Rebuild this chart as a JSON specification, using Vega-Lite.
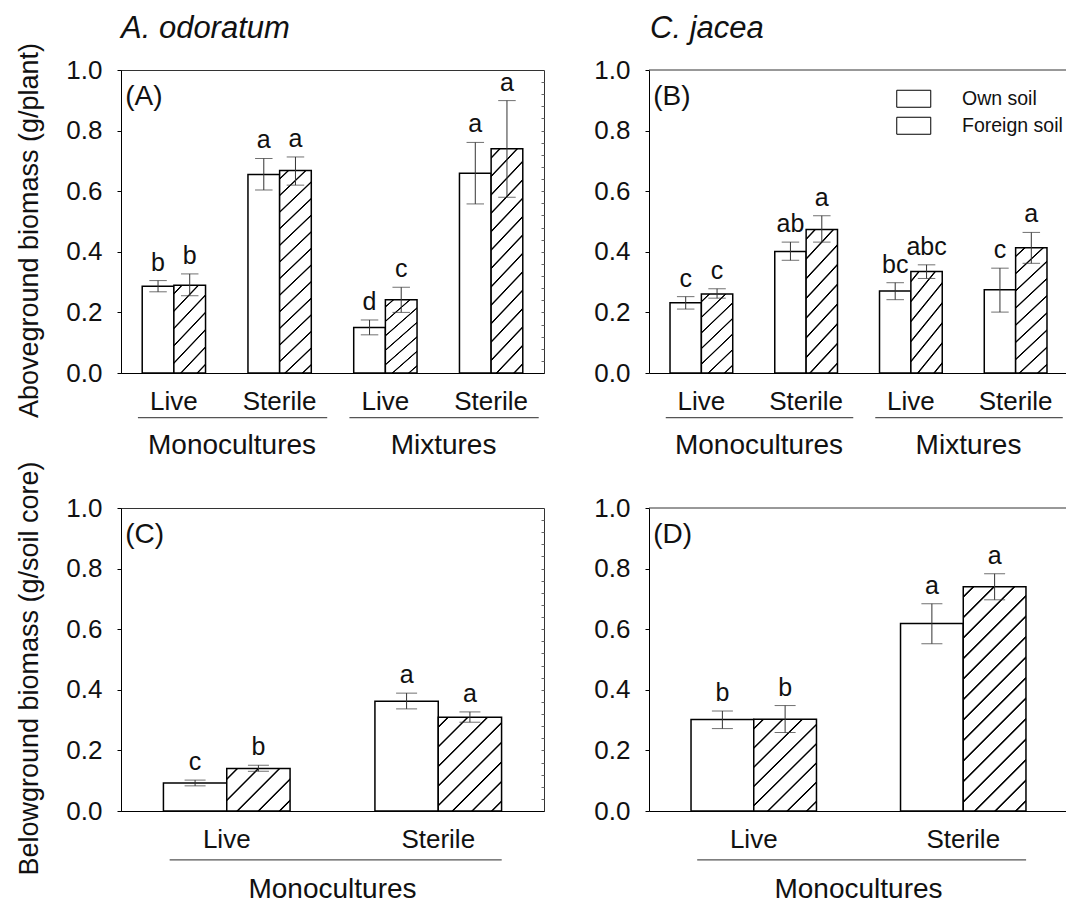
{
  "$schema": "https://vega.github.io/schema/vega-lite/v6.json",
  "background": "white",
  "padding": {"left": 15, "top": 12, "right": 0, "bottom": 0},
  "bounds": "flush",
  "columns": 2,
  "spacing": {"row": 135, "column": 105},
  "resolve": {"scale": {"stroke": "independent", "xOffset": "independent", "x": "independent", "y": "independent"}, "legend": {"stroke": "independent"}},
  "datasets": {
    "bars": [
      {"panel": "A", "cat": "Monocultures|Live", "soil": "Own soil", "mean": 0.286, "lo": 0.268, "hi": 0.305, "letter": "b"},
      {"panel": "A", "cat": "Monocultures|Live", "soil": "Foreign soil", "mean": 0.290, "lo": 0.255, "hi": 0.327, "letter": "b"},
      {"panel": "A", "cat": "Monocultures|Sterile", "soil": "Own soil", "mean": 0.655, "lo": 0.604, "hi": 0.708, "letter": "a"},
      {"panel": "A", "cat": "Monocultures|Sterile", "soil": "Foreign soil", "mean": 0.668, "lo": 0.620, "hi": 0.713, "letter": "a"},
      {"panel": "A", "cat": "Mixtures|Live", "soil": "Own soil", "mean": 0.150, "lo": 0.126, "hi": 0.175, "letter": "d"},
      {"panel": "A", "cat": "Mixtures|Live", "soil": "Foreign soil", "mean": 0.242, "lo": 0.200, "hi": 0.283, "letter": "c"},
      {"panel": "A", "cat": "Mixtures|Sterile", "soil": "Own soil", "mean": 0.659, "lo": 0.558, "hi": 0.761, "letter": "a"},
      {"panel": "A", "cat": "Mixtures|Sterile", "soil": "Foreign soil", "mean": 0.740, "lo": 0.580, "hi": 0.899, "letter": "a"},
      {"panel": "B", "cat": "Monocultures|Live", "soil": "Own soil", "mean": 0.232, "lo": 0.211, "hi": 0.252, "letter": "c"},
      {"panel": "B", "cat": "Monocultures|Live", "soil": "Foreign soil", "mean": 0.261, "lo": 0.247, "hi": 0.278, "letter": "c"},
      {"panel": "B", "cat": "Monocultures|Sterile", "soil": "Own soil", "mean": 0.401, "lo": 0.372, "hi": 0.432, "letter": "ab"},
      {"panel": "B", "cat": "Monocultures|Sterile", "soil": "Foreign soil", "mean": 0.474, "lo": 0.432, "hi": 0.519, "letter": "a"},
      {"panel": "B", "cat": "Mixtures|Live", "soil": "Own soil", "mean": 0.271, "lo": 0.242, "hi": 0.298, "letter": "bc"},
      {"panel": "B", "cat": "Mixtures|Live", "soil": "Foreign soil", "mean": 0.335, "lo": 0.312, "hi": 0.357, "letter": "abc"},
      {"panel": "B", "cat": "Mixtures|Sterile", "soil": "Own soil", "mean": 0.275, "lo": 0.201, "hi": 0.346, "letter": "c"},
      {"panel": "B", "cat": "Mixtures|Sterile", "soil": "Foreign soil", "mean": 0.413, "lo": 0.362, "hi": 0.464, "letter": "a"},
      {"panel": "C", "cat": "Monocultures|Live", "soil": "Own soil", "mean": 0.0925, "lo": 0.083, "hi": 0.102, "letter": "c"},
      {"panel": "C", "cat": "Monocultures|Live", "soil": "Foreign soil", "mean": 0.140, "lo": 0.131, "hi": 0.151, "letter": "b"},
      {"panel": "C", "cat": "Monocultures|Sterile", "soil": "Own soil", "mean": 0.362, "lo": 0.337, "hi": 0.389, "letter": "a"},
      {"panel": "C", "cat": "Monocultures|Sterile", "soil": "Foreign soil", "mean": 0.309, "lo": 0.293, "hi": 0.327, "letter": "a"},
      {"panel": "D", "cat": "Monocultures|Live", "soil": "Own soil", "mean": 0.302, "lo": 0.272, "hi": 0.330, "letter": "b"},
      {"panel": "D", "cat": "Monocultures|Live", "soil": "Foreign soil", "mean": 0.303, "lo": 0.259, "hi": 0.348, "letter": "b"},
      {"panel": "D", "cat": "Monocultures|Sterile", "soil": "Own soil", "mean": 0.619, "lo": 0.552, "hi": 0.684, "letter": "a"},
      {"panel": "D", "cat": "Monocultures|Sterile", "soil": "Foreign soil", "mean": 0.740, "lo": 0.697, "hi": 0.783, "letter": "a"}
    ],
    "groups": [
      {"panel": "A", "label": "Monocultures", "cat": "Monocultures|Live", "end": "Monocultures|Sterile"},
      {"panel": "A", "label": "Mixtures", "cat": "Mixtures|Live", "end": "Mixtures|Sterile"},
      {"panel": "B", "label": "Monocultures", "cat": "Monocultures|Live", "end": "Monocultures|Sterile"},
      {"panel": "B", "label": "Mixtures", "cat": "Mixtures|Live", "end": "Mixtures|Sterile"},
      {"panel": "C", "label": "Monocultures", "cat": "Monocultures|Live", "end": "Monocultures|Sterile"},
      {"panel": "D", "label": "Monocultures", "cat": "Monocultures|Live", "end": "Monocultures|Sterile"}
    ],
    "plabels": [
      {"panel": "A", "label": "(A)", "cat": "Monocultures|Live"},
      {"panel": "B", "label": "(B)", "cat": "Monocultures|Live"},
      {"panel": "C", "label": "(C)", "cat": "Monocultures|Live"},
      {"panel": "D", "label": "(D)", "cat": "Monocultures|Live"}
    ],
    "species": [
      {"panel": "A", "label": "A. odoratum", "cat": "Monocultures|Live"},
      {"panel": "B", "label": "C. jacea", "cat": "Monocultures|Live"}
    ]
  },
  "concat": [
    {
      "width": 423, "height": 303,
      "resolve": {"axis": {"y": "independent"}},
      "layer": [
        {
          "data": {"name": "bars"}, "transform": [{"filter": "datum.panel === 'A'"}],
          "mark": {"type": "bar", "stroke": "black", "strokeWidth": 1.5},
          "encoding": {
            "x": {"field": "cat", "type": "nominal", "scale": {"type": "band", "domain": ["Monocultures|Live", "Monocultures|Sterile", "Mixtures|Live", "Mixtures|Sterile"], "paddingInner": 0, "paddingOuter": 0},
                  "axis": {"title": null, "ticks": false, "labelAngle": 0, "labelFontSize": 26, "labelPadding": 15, "labelExpr": "split(datum.label, '|')[1]", "domainColor": "black", "labelColor": "#111"}},
            "xOffset": {"field": "soil", "type": "nominal", "scale": {"type": "band", "domain": ["Own soil", "Foreign soil"], "paddingInner": 0, "paddingOuter": 0.67}},
            "y": {"field": "mean", "type": "quantitative", "scale": {"domain": [0, 1], "nice": false},
                  "axis": {"title": "Aboveground biomass (g/plant)", "titleY": 160, "values": [0, 0.2, 0.4, 0.6, 0.8, 1], "format": ".1f", "grid": false, "tickSize": 4, "labelPadding": 15, "labelFontSize": 26, "titleFontSize": 27, "titlePadding": 22, "titleFontWeight": "normal", "domainColor": "black", "tickColor": "black", "labelColor": "#111", "titleColor": "#111"}},
            "fill": {
              "condition": [
                {"test": "datum.soil === 'Foreign soil' && datum.mean > 0.5", "value": {"gradient": "linear", "x1": 0, "y1": 0, "x2": 0.1675, "y2": 1.124, "stops": [
                  {"offset": 0, "color": "#fff"},
                  {"offset": 0.0297, "color": "#fff"}, {"offset": 0.0337, "color": "#000"}, {"offset": 0.0377, "color": "#000"}, {"offset": 0.0417, "color": "#fff"},
                  {"offset": 0.1011, "color": "#fff"}, {"offset": 0.1051, "color": "#000"}, {"offset": 0.1091, "color": "#000"}, {"offset": 0.1131, "color": "#fff"},
                  {"offset": 0.1726, "color": "#fff"}, {"offset": 0.1766, "color": "#000"}, {"offset": 0.1806, "color": "#000"}, {"offset": 0.1846, "color": "#fff"},
                  {"offset": 0.244, "color": "#fff"}, {"offset": 0.248, "color": "#000"}, {"offset": 0.252, "color": "#000"}, {"offset": 0.256, "color": "#fff"},
                  {"offset": 0.3154, "color": "#fff"}, {"offset": 0.3194, "color": "#000"}, {"offset": 0.3234, "color": "#000"}, {"offset": 0.3274, "color": "#fff"},
                  {"offset": 0.3869, "color": "#fff"}, {"offset": 0.3909, "color": "#000"}, {"offset": 0.3949, "color": "#000"}, {"offset": 0.3989, "color": "#fff"},
                  {"offset": 0.4583, "color": "#fff"}, {"offset": 0.4623, "color": "#000"}, {"offset": 0.4663, "color": "#000"}, {"offset": 0.4703, "color": "#fff"},
                  {"offset": 0.5297, "color": "#fff"}, {"offset": 0.5337, "color": "#000"}, {"offset": 0.5377, "color": "#000"}, {"offset": 0.5417, "color": "#fff"},
                  {"offset": 0.6011, "color": "#fff"}, {"offset": 0.6051, "color": "#000"}, {"offset": 0.6091, "color": "#000"}, {"offset": 0.6131, "color": "#fff"},
                  {"offset": 0.6726, "color": "#fff"}, {"offset": 0.6766, "color": "#000"}, {"offset": 0.6806, "color": "#000"}, {"offset": 0.6846, "color": "#fff"},
                  {"offset": 0.744, "color": "#fff"}, {"offset": 0.748, "color": "#000"}, {"offset": 0.752, "color": "#000"}, {"offset": 0.756, "color": "#fff"},
                  {"offset": 0.8154, "color": "#fff"}, {"offset": 0.8194, "color": "#000"}, {"offset": 0.8234, "color": "#000"}, {"offset": 0.8274, "color": "#fff"},
                  {"offset": 0.8869, "color": "#fff"}, {"offset": 0.8909, "color": "#000"}, {"offset": 0.8949, "color": "#000"}, {"offset": 0.8989, "color": "#fff"},
                  {"offset": 0.9583, "color": "#fff"}, {"offset": 0.9623, "color": "#000"}, {"offset": 0.9663, "color": "#000"}, {"offset": 0.9703, "color": "#fff"},
                  {"offset": 1, "color": "#fff"}]}},
                {"test": "datum.soil === 'Foreign soil'", "value": {"gradient": "linear", "x1": 0, "y1": 0, "x2": 0.4582, "y2": 1.2059, "stops": [
                  {"offset": 0, "color": "#fff"},
                  {"offset": 0.0594, "color": "#fff"}, {"offset": 0.0674, "color": "#000"}, {"offset": 0.0754, "color": "#000"}, {"offset": 0.0834, "color": "#fff"},
                  {"offset": 0.2023, "color": "#fff"}, {"offset": 0.2103, "color": "#000"}, {"offset": 0.2183, "color": "#000"}, {"offset": 0.2263, "color": "#fff"},
                  {"offset": 0.3451, "color": "#fff"}, {"offset": 0.3531, "color": "#000"}, {"offset": 0.3611, "color": "#000"}, {"offset": 0.3691, "color": "#fff"},
                  {"offset": 0.488, "color": "#fff"}, {"offset": 0.496, "color": "#000"}, {"offset": 0.504, "color": "#000"}, {"offset": 0.512, "color": "#fff"},
                  {"offset": 0.6309, "color": "#fff"}, {"offset": 0.6389, "color": "#000"}, {"offset": 0.6469, "color": "#000"}, {"offset": 0.6549, "color": "#fff"},
                  {"offset": 0.7737, "color": "#fff"}, {"offset": 0.7817, "color": "#000"}, {"offset": 0.7897, "color": "#000"}, {"offset": 0.7977, "color": "#fff"},
                  {"offset": 0.9166, "color": "#fff"}, {"offset": 0.9246, "color": "#000"}, {"offset": 0.9326, "color": "#000"}, {"offset": 0.9406, "color": "#fff"},
                  {"offset": 1, "color": "#fff"}]}}
              ],
              "value": "white"
            }
          }
        },
        {
          "data": {"name": "bars"}, "transform": [{"filter": "datum.panel === 'A'"}],
          "mark": {"type": "rule", "color": "#333", "strokeWidth": 1},
          "encoding": {
            "x": {"field": "cat", "type": "nominal", "scale": {"type": "band", "domain": ["Monocultures|Live", "Monocultures|Sterile", "Mixtures|Live", "Mixtures|Sterile"], "paddingInner": 0, "paddingOuter": 0}},
            "xOffset": {"field": "soil", "type": "nominal", "scale": {"type": "band", "domain": ["Own soil", "Foreign soil"], "paddingInner": 0, "paddingOuter": 0.67}},
            "y": {"field": "lo", "type": "quantitative", "axis": {"orient": "right", "title": null, "labels": false, "domain": false, "grid": false, "tickSize": -3, "tickColor": "#666", "values": [0.04, 0.08, 0.12, 0.16, 0.2, 0.24, 0.28, 0.32, 0.36, 0.4, 0.44, 0.48, 0.52, 0.56, 0.6, 0.64, 0.68, 0.72, 0.76, 0.8, 0.84, 0.88, 0.92, 0.96]}},
            "y2": {"field": "hi"}
          }
        },
        {
          "data": {"name": "bars"}, "transform": [{"filter": "datum.panel === 'A'"}],
          "mark": {"type": "tick", "color": "#333", "thickness": 1, "size": 17.5},
          "encoding": {
            "x": {"field": "cat", "type": "nominal", "scale": {"type": "band", "domain": ["Monocultures|Live", "Monocultures|Sterile", "Mixtures|Live", "Mixtures|Sterile"], "paddingInner": 0, "paddingOuter": 0}},
            "xOffset": {"field": "soil", "type": "nominal", "scale": {"type": "band", "domain": ["Own soil", "Foreign soil"], "paddingInner": 0, "paddingOuter": 0.67}},
            "y": {"field": "hi", "type": "quantitative", "axis": null}
          }
        },
        {
          "data": {"name": "bars"}, "transform": [{"filter": "datum.panel === 'A'"}],
          "mark": {"type": "tick", "color": "#333", "thickness": 1, "size": 17.5},
          "encoding": {
            "x": {"field": "cat", "type": "nominal", "scale": {"type": "band", "domain": ["Monocultures|Live", "Monocultures|Sterile", "Mixtures|Live", "Mixtures|Sterile"], "paddingInner": 0, "paddingOuter": 0}},
            "xOffset": {"field": "soil", "type": "nominal", "scale": {"type": "band", "domain": ["Own soil", "Foreign soil"], "paddingInner": 0, "paddingOuter": 0.67}},
            "y": {"field": "lo", "type": "quantitative", "axis": null}
          }
        },
        {
          "data": {"name": "bars"}, "transform": [{"filter": "datum.panel === 'A'"}],
          "mark": {"type": "text", "fontSize": 25, "dy": -10, "baseline": "alphabetic", "color": "#111"},
          "encoding": {
            "x": {"field": "cat", "type": "nominal", "scale": {"type": "band", "domain": ["Monocultures|Live", "Monocultures|Sterile", "Mixtures|Live", "Mixtures|Sterile"], "paddingInner": 0, "paddingOuter": 0}},
            "xOffset": {"field": "soil", "type": "nominal", "scale": {"type": "band", "domain": ["Own soil", "Foreign soil"], "paddingInner": 0, "paddingOuter": 0.67}},
            "y": {"field": "hi", "type": "quantitative", "axis": null},
            "text": {"field": "letter"}
          }
        },
        {
          "data": {"name": "plabels"}, "transform": [{"filter": "datum.panel === 'A'"}],
          "mark": {"type": "text", "fontSize": 28, "align": "left", "baseline": "alphabetic", "color": "#111"},
          "encoding": {
            "x": {"field": "cat", "type": "nominal", "bandPosition": 0.04, "scale": {"type": "band", "domain": ["Monocultures|Live", "Monocultures|Sterile", "Mixtures|Live", "Mixtures|Sterile"], "paddingInner": 0, "paddingOuter": 0}},
            "y": {"datum": 0.885, "axis": null},
            "text": {"field": "label"}
          }
        },
        {
          "data": {"name": "species"}, "transform": [{"filter": "datum.panel === 'A'"}],
          "mark": {"type": "text", "fontSize": 31, "fontStyle": "italic", "align": "left", "baseline": "alphabetic", "color": "#111"},
          "encoding": {
            "x": {"field": "cat", "type": "nominal", "bandPosition": 0, "scale": {"type": "band", "domain": ["Monocultures|Live", "Monocultures|Sterile", "Mixtures|Live", "Mixtures|Sterile"], "paddingInner": 0, "paddingOuter": 0}},
            "y": {"datum": 1.107, "axis": null},
            "text": {"field": "label"}
          }
        },
        {
          "data": {"name": "groups"}, "transform": [{"filter": "datum.panel === 'A'"}],
          "mark": {"type": "rule", "color": "#555", "strokeWidth": 1.3},
          "encoding": {
            "x": {"field": "cat", "type": "nominal", "bandPosition": 0.16, "scale": {"type": "band", "domain": ["Monocultures|Live", "Monocultures|Sterile", "Mixtures|Live", "Mixtures|Sterile"], "paddingInner": 0, "paddingOuter": 0}},
            "x2": {"field": "end", "bandPosition": 0.95},
            "y": {"datum": -0.147, "axis": null}
          }
        },
        {
          "data": {"name": "groups"}, "transform": [{"filter": "datum.panel === 'A'"}],
          "mark": {"type": "text", "fontSize": 28, "align": "center", "baseline": "alphabetic", "color": "#111"},
          "encoding": {
            "x": {"field": "end", "type": "nominal", "bandPosition": 0.05, "scale": {"type": "band", "domain": ["Monocultures|Live", "Monocultures|Sterile", "Mixtures|Live", "Mixtures|Sterile"], "paddingInner": 0, "paddingOuter": 0}},
            "y": {"datum": -0.266, "axis": null},
            "text": {"field": "label"}
          }
        }
      ]
    },
    {
      "width": 419, "height": 303,
      "view": {"stroke": null},
      "layer": [
        {
          "data": {"name": "bars"}, "transform": [{"filter": "datum.panel === 'B'"}],
          "mark": {"type": "bar", "strokeWidth": 1.5},
          "encoding": {
            "x": {"field": "cat", "type": "nominal", "scale": {"type": "band", "domain": ["Monocultures|Live", "Monocultures|Sterile", "Mixtures|Live", "Mixtures|Sterile"], "paddingInner": 0, "paddingOuter": 0},
                  "axis": {"title": null, "ticks": false, "labelAngle": 0, "labelFontSize": 26, "labelPadding": 15, "labelExpr": "split(datum.label, '|')[1]", "domainColor": "black", "labelColor": "#111"}},
            "xOffset": {"field": "soil", "type": "nominal", "scale": {"type": "band", "domain": ["Own soil", "Foreign soil"], "paddingInner": 0, "paddingOuter": 0.67}},
            "y": {"field": "mean", "type": "quantitative", "scale": {"domain": [0, 1], "nice": false},
                  "axis": {"title": null, "values": [0, 0.2, 0.4, 0.6, 0.8, 1], "format": ".1f", "grid": false, "tickSize": 4, "labelPadding": 15, "labelFontSize": 26, "domainColor": "black", "tickColor": "black", "labelColor": "#111"}},
            "stroke": {"field": "soil", "type": "nominal", "scale": {"domain": ["Own soil", "Foreign soil"], "range": ["black", "black"]},
              "legend": {"orient": "none", "legendX": 255, "legendY": 19, "title": null, "padding": 0, "symbolType": "M-2,-1H2V1H-2Z", "symbolSize": 289, "symbolStrokeWidth": 1, "symbolStrokeColor": "black", "symbolFillColor": "white", "labelFontSize": 19.5, "labelOffset": 38.5, "rowPadding": 5, "labelColor": "#111", "labelLimit": 200,
                "encode": {"symbols": {"update": {
                  "fill": {"condition": {"test": "datum.value === 'Foreign soil'", "value": {"gradient": "linear", "x1": 0, "y1": 0, "x2": 1.2, "y2": 0.6, "stops": [
                    {"offset": 0, "color": "#fff"},
                    {"offset": 0.22, "color": "#fff"}, {"offset": 0.24, "color": "#000"}, {"offset": 0.26, "color": "#000"}, {"offset": 0.28, "color": "#fff"},
                    {"offset": 0.72, "color": "#fff"}, {"offset": 0.74, "color": "#000"}, {"offset": 0.76, "color": "#000"}, {"offset": 0.78, "color": "#fff"},
                    {"offset": 1, "color": "#fff"}]}}, "value": "white"},
                  "stroke": {"value": "black"}}}}}},
            "fill": {
              "condition": [
                {"test": "datum.soil === 'Foreign soil' && datum.mean > 0.4", "value": {"gradient": "linear", "x1": 0, "y1": 0, "x2": 0.275, "y2": 1.1704, "stops": [
                  {"offset": 0, "color": "#fff"},
                  {"offset": 0.0466, "color": "#fff"}, {"offset": 0.0526, "color": "#000"}, {"offset": 0.0586, "color": "#000"}, {"offset": 0.0646, "color": "#fff"},
                  {"offset": 0.1577, "color": "#fff"}, {"offset": 0.1637, "color": "#000"}, {"offset": 0.1697, "color": "#000"}, {"offset": 0.1757, "color": "#fff"},
                  {"offset": 0.2688, "color": "#fff"}, {"offset": 0.2748, "color": "#000"}, {"offset": 0.2808, "color": "#000"}, {"offset": 0.2868, "color": "#fff"},
                  {"offset": 0.3799, "color": "#fff"}, {"offset": 0.3859, "color": "#000"}, {"offset": 0.3919, "color": "#000"}, {"offset": 0.3979, "color": "#fff"},
                  {"offset": 0.491, "color": "#fff"}, {"offset": 0.497, "color": "#000"}, {"offset": 0.503, "color": "#000"}, {"offset": 0.509, "color": "#fff"},
                  {"offset": 0.6021, "color": "#fff"}, {"offset": 0.6081, "color": "#000"}, {"offset": 0.6141, "color": "#000"}, {"offset": 0.6201, "color": "#fff"},
                  {"offset": 0.7132, "color": "#fff"}, {"offset": 0.7192, "color": "#000"}, {"offset": 0.7252, "color": "#000"}, {"offset": 0.7312, "color": "#fff"},
                  {"offset": 0.8243, "color": "#fff"}, {"offset": 0.8303, "color": "#000"}, {"offset": 0.8363, "color": "#000"}, {"offset": 0.8423, "color": "#fff"},
                  {"offset": 0.9354, "color": "#fff"}, {"offset": 0.9414, "color": "#000"}, {"offset": 0.9474, "color": "#000"}, {"offset": 0.9534, "color": "#fff"},
                  {"offset": 1, "color": "#fff"}]}},
                {"test": "datum.soil === 'Foreign soil'", "value": {"gradient": "linear", "x1": 0, "y1": 0, "x2": 0.4582, "y2": 1.2059, "stops": [
                  {"offset": 0, "color": "#fff"},
                  {"offset": 0.0594, "color": "#fff"}, {"offset": 0.0674, "color": "#000"}, {"offset": 0.0754, "color": "#000"}, {"offset": 0.0834, "color": "#fff"},
                  {"offset": 0.2023, "color": "#fff"}, {"offset": 0.2103, "color": "#000"}, {"offset": 0.2183, "color": "#000"}, {"offset": 0.2263, "color": "#fff"},
                  {"offset": 0.3451, "color": "#fff"}, {"offset": 0.3531, "color": "#000"}, {"offset": 0.3611, "color": "#000"}, {"offset": 0.3691, "color": "#fff"},
                  {"offset": 0.488, "color": "#fff"}, {"offset": 0.496, "color": "#000"}, {"offset": 0.504, "color": "#000"}, {"offset": 0.512, "color": "#fff"},
                  {"offset": 0.6309, "color": "#fff"}, {"offset": 0.6389, "color": "#000"}, {"offset": 0.6469, "color": "#000"}, {"offset": 0.6549, "color": "#fff"},
                  {"offset": 0.7737, "color": "#fff"}, {"offset": 0.7817, "color": "#000"}, {"offset": 0.7897, "color": "#000"}, {"offset": 0.7977, "color": "#fff"},
                  {"offset": 0.9166, "color": "#fff"}, {"offset": 0.9246, "color": "#000"}, {"offset": 0.9326, "color": "#000"}, {"offset": 0.9406, "color": "#fff"},
                  {"offset": 1, "color": "#fff"}]}}
              ],
              "value": "white"
            }
          }
        },
        {
          "data": {"name": "bars"}, "transform": [{"filter": "datum.panel === 'B'"}],
          "mark": {"type": "rule", "color": "#333", "strokeWidth": 1},
          "encoding": {
            "x": {"field": "cat", "type": "nominal", "scale": {"type": "band", "domain": ["Monocultures|Live", "Monocultures|Sterile", "Mixtures|Live", "Mixtures|Sterile"], "paddingInner": 0, "paddingOuter": 0}},
            "xOffset": {"field": "soil", "type": "nominal", "scale": {"type": "band", "domain": ["Own soil", "Foreign soil"], "paddingInner": 0, "paddingOuter": 0.67}},
            "y": {"field": "lo", "type": "quantitative"},
            "y2": {"field": "hi"}
          }
        },
        {
          "data": {"name": "bars"}, "transform": [{"filter": "datum.panel === 'B'"}],
          "mark": {"type": "tick", "color": "#333", "thickness": 1, "size": 17.5},
          "encoding": {
            "x": {"field": "cat", "type": "nominal", "scale": {"type": "band", "domain": ["Monocultures|Live", "Monocultures|Sterile", "Mixtures|Live", "Mixtures|Sterile"], "paddingInner": 0, "paddingOuter": 0}},
            "xOffset": {"field": "soil", "type": "nominal", "scale": {"type": "band", "domain": ["Own soil", "Foreign soil"], "paddingInner": 0, "paddingOuter": 0.67}},
            "y": {"field": "hi", "type": "quantitative"}
          }
        },
        {
          "data": {"name": "bars"}, "transform": [{"filter": "datum.panel === 'B'"}],
          "mark": {"type": "tick", "color": "#333", "thickness": 1, "size": 17.5},
          "encoding": {
            "x": {"field": "cat", "type": "nominal", "scale": {"type": "band", "domain": ["Monocultures|Live", "Monocultures|Sterile", "Mixtures|Live", "Mixtures|Sterile"], "paddingInner": 0, "paddingOuter": 0}},
            "xOffset": {"field": "soil", "type": "nominal", "scale": {"type": "band", "domain": ["Own soil", "Foreign soil"], "paddingInner": 0, "paddingOuter": 0.67}},
            "y": {"field": "lo", "type": "quantitative"}
          }
        },
        {
          "data": {"name": "bars"}, "transform": [{"filter": "datum.panel === 'B'"}],
          "mark": {"type": "text", "fontSize": 25, "dy": -10, "baseline": "alphabetic", "color": "#111"},
          "encoding": {
            "x": {"field": "cat", "type": "nominal", "scale": {"type": "band", "domain": ["Monocultures|Live", "Monocultures|Sterile", "Mixtures|Live", "Mixtures|Sterile"], "paddingInner": 0, "paddingOuter": 0}},
            "xOffset": {"field": "soil", "type": "nominal", "scale": {"type": "band", "domain": ["Own soil", "Foreign soil"], "paddingInner": 0, "paddingOuter": 0.67}},
            "y": {"field": "hi", "type": "quantitative"},
            "text": {"field": "letter"}
          }
        },
        {
          "data": {"name": "plabels"}, "transform": [{"filter": "datum.panel === 'B'"}],
          "mark": {"type": "text", "fontSize": 28, "align": "left", "baseline": "alphabetic", "color": "#111"},
          "encoding": {
            "x": {"field": "cat", "type": "nominal", "bandPosition": 0.04, "scale": {"type": "band", "domain": ["Monocultures|Live", "Monocultures|Sterile", "Mixtures|Live", "Mixtures|Sterile"], "paddingInner": 0, "paddingOuter": 0}},
            "y": {"datum": 0.885},
            "text": {"field": "label"}
          }
        },
        {
          "data": {"name": "species"}, "transform": [{"filter": "datum.panel === 'B'"}],
          "mark": {"type": "text", "fontSize": 31, "fontStyle": "italic", "align": "left", "baseline": "alphabetic", "color": "#111"},
          "encoding": {
            "x": {"field": "cat", "type": "nominal", "bandPosition": 0.01, "scale": {"type": "band", "domain": ["Monocultures|Live", "Monocultures|Sterile", "Mixtures|Live", "Mixtures|Sterile"], "paddingInner": 0, "paddingOuter": 0}},
            "y": {"datum": 1.107},
            "text": {"field": "label"}
          }
        },
        {
          "data": {"name": "plabels"}, "transform": [{"filter": "datum.panel === 'B'"}],
          "mark": {"type": "rule", "color": "#333", "strokeWidth": 1},
          "encoding": {"y": {"datum": 1}}
        },
        {
          "data": {"name": "groups"}, "transform": [{"filter": "datum.panel === 'B'"}],
          "mark": {"type": "rule", "color": "#555", "strokeWidth": 1.3},
          "encoding": {
            "x": {"field": "cat", "type": "nominal", "bandPosition": 0.16, "scale": {"type": "band", "domain": ["Monocultures|Live", "Monocultures|Sterile", "Mixtures|Live", "Mixtures|Sterile"], "paddingInner": 0, "paddingOuter": 0}},
            "x2": {"field": "end", "bandPosition": 0.95},
            "y": {"datum": -0.147}
          }
        },
        {
          "data": {"name": "groups"}, "transform": [{"filter": "datum.panel === 'B'"}],
          "mark": {"type": "text", "fontSize": 28, "align": "center", "baseline": "alphabetic", "color": "#111"},
          "encoding": {
            "x": {"field": "end", "type": "nominal", "bandPosition": 0.05, "scale": {"type": "band", "domain": ["Monocultures|Live", "Monocultures|Sterile", "Mixtures|Live", "Mixtures|Sterile"], "paddingInner": 0, "paddingOuter": 0}},
            "y": {"datum": -0.266},
            "text": {"field": "label"}
          }
        }
      ]
    },
    {
      "width": 423, "height": 303,
      "resolve": {"axis": {"y": "independent"}},
      "layer": [
        {
          "data": {"name": "bars"}, "transform": [{"filter": "datum.panel === 'C'"}],
          "mark": {"type": "bar", "stroke": "black", "strokeWidth": 1.5},
          "encoding": {
            "x": {"field": "cat", "type": "nominal", "scale": {"type": "band", "domain": ["Monocultures|Live", "Monocultures|Sterile"], "paddingInner": 0, "paddingOuter": 0},
                  "axis": {"title": null, "ticks": false, "labelAngle": 0, "labelFontSize": 26, "labelPadding": 15, "labelExpr": "split(datum.label, '|')[1]", "domainColor": "black", "labelColor": "#111"}},
            "xOffset": {"field": "soil", "type": "nominal", "scale": {"type": "band", "domain": ["Own soil", "Foreign soil"], "paddingInner": 0, "paddingOuter": 0.67}},
            "y": {"field": "mean", "type": "quantitative", "scale": {"domain": [0, 1], "nice": false},
                  "axis": {"title": "Belowground biomass (g/soil core)", "titleY": 160, "values": [0, 0.2, 0.4, 0.6, 0.8, 1], "format": ".1f", "grid": false, "tickSize": 4, "labelPadding": 15, "labelFontSize": 26, "titleFontSize": 27, "titlePadding": 22, "titleFontWeight": "normal", "domainColor": "black", "tickColor": "black", "labelColor": "#111", "titleColor": "#111"}},
            "fill": {
              "condition": [
                {"test": "datum.soil === 'Foreign soil' && datum.mean < 0.2", "value": {"gradient": "linear", "x1": 0, "y1": 0, "x2": 1.1538, "y2": 0.7692, "stops": [
                  {"offset": 0, "color": "#fff"},
                  {"offset": 0.085, "color": "#fff"}, {"offset": 0.095, "color": "#000"}, {"offset": 0.105, "color": "#000"}, {"offset": 0.115, "color": "#fff"},
                  {"offset": 0.285, "color": "#fff"}, {"offset": 0.295, "color": "#000"}, {"offset": 0.305, "color": "#000"}, {"offset": 0.315, "color": "#fff"},
                  {"offset": 0.485, "color": "#fff"}, {"offset": 0.495, "color": "#000"}, {"offset": 0.505, "color": "#000"}, {"offset": 0.515, "color": "#fff"},
                  {"offset": 0.685, "color": "#fff"}, {"offset": 0.695, "color": "#000"}, {"offset": 0.705, "color": "#000"}, {"offset": 0.715, "color": "#fff"},
                  {"offset": 0.885, "color": "#fff"}, {"offset": 0.895, "color": "#000"}, {"offset": 0.905, "color": "#000"}, {"offset": 0.915, "color": "#fff"},
                  {"offset": 1, "color": "#fff"}]}},
                {"test": "datum.soil === 'Foreign soil'", "value": {"gradient": "linear", "x1": 0, "y1": 0, "x2": 0.7767, "y2": 1.1507, "stops": [
                  {"offset": 0, "color": "#fff"},
                  {"offset": 0.0525, "color": "#fff"}, {"offset": 0.0592, "color": "#000"}, {"offset": 0.0658, "color": "#000"}, {"offset": 0.0725, "color": "#fff"},
                  {"offset": 0.1775, "color": "#fff"}, {"offset": 0.1842, "color": "#000"}, {"offset": 0.1908, "color": "#000"}, {"offset": 0.1975, "color": "#fff"},
                  {"offset": 0.3025, "color": "#fff"}, {"offset": 0.3092, "color": "#000"}, {"offset": 0.3158, "color": "#000"}, {"offset": 0.3225, "color": "#fff"},
                  {"offset": 0.4275, "color": "#fff"}, {"offset": 0.4342, "color": "#000"}, {"offset": 0.4408, "color": "#000"}, {"offset": 0.4475, "color": "#fff"},
                  {"offset": 0.5525, "color": "#fff"}, {"offset": 0.5592, "color": "#000"}, {"offset": 0.5658, "color": "#000"}, {"offset": 0.5725, "color": "#fff"},
                  {"offset": 0.6775, "color": "#fff"}, {"offset": 0.6842, "color": "#000"}, {"offset": 0.6908, "color": "#000"}, {"offset": 0.6975, "color": "#fff"},
                  {"offset": 0.8025, "color": "#fff"}, {"offset": 0.8092, "color": "#000"}, {"offset": 0.8158, "color": "#000"}, {"offset": 0.8225, "color": "#fff"},
                  {"offset": 0.9275, "color": "#fff"}, {"offset": 0.9342, "color": "#000"}, {"offset": 0.9408, "color": "#000"}, {"offset": 0.9475, "color": "#fff"},
                  {"offset": 1, "color": "#fff"}]}}
              ],
              "value": "white"
            }
          }
        },
        {
          "data": {"name": "bars"}, "transform": [{"filter": "datum.panel === 'C'"}],
          "mark": {"type": "rule", "color": "#333", "strokeWidth": 1},
          "encoding": {
            "x": {"field": "cat", "type": "nominal", "scale": {"type": "band", "domain": ["Monocultures|Live", "Monocultures|Sterile"], "paddingInner": 0, "paddingOuter": 0}},
            "xOffset": {"field": "soil", "type": "nominal", "scale": {"type": "band", "domain": ["Own soil", "Foreign soil"], "paddingInner": 0, "paddingOuter": 0.67}},
            "y": {"field": "lo", "type": "quantitative", "axis": {"orient": "right", "title": null, "labels": false, "domain": false, "grid": false, "tickSize": -3, "tickColor": "#666", "values": [0.04, 0.08, 0.12, 0.16, 0.2, 0.24, 0.28, 0.32, 0.36, 0.4, 0.44, 0.48, 0.52, 0.56, 0.6, 0.64, 0.68, 0.72, 0.76, 0.8, 0.84, 0.88, 0.92, 0.96]}},
            "y2": {"field": "hi"}
          }
        },
        {
          "data": {"name": "bars"}, "transform": [{"filter": "datum.panel === 'C'"}],
          "mark": {"type": "tick", "color": "#333", "thickness": 1, "size": 21},
          "encoding": {
            "x": {"field": "cat", "type": "nominal", "scale": {"type": "band", "domain": ["Monocultures|Live", "Monocultures|Sterile"], "paddingInner": 0, "paddingOuter": 0}},
            "xOffset": {"field": "soil", "type": "nominal", "scale": {"type": "band", "domain": ["Own soil", "Foreign soil"], "paddingInner": 0, "paddingOuter": 0.67}},
            "y": {"field": "hi", "type": "quantitative", "axis": null}
          }
        },
        {
          "data": {"name": "bars"}, "transform": [{"filter": "datum.panel === 'C'"}],
          "mark": {"type": "tick", "color": "#333", "thickness": 1, "size": 21},
          "encoding": {
            "x": {"field": "cat", "type": "nominal", "scale": {"type": "band", "domain": ["Monocultures|Live", "Monocultures|Sterile"], "paddingInner": 0, "paddingOuter": 0}},
            "xOffset": {"field": "soil", "type": "nominal", "scale": {"type": "band", "domain": ["Own soil", "Foreign soil"], "paddingInner": 0, "paddingOuter": 0.67}},
            "y": {"field": "lo", "type": "quantitative", "axis": null}
          }
        },
        {
          "data": {"name": "bars"}, "transform": [{"filter": "datum.panel === 'C'"}],
          "mark": {"type": "text", "fontSize": 25, "dy": -10, "baseline": "alphabetic", "color": "#111"},
          "encoding": {
            "x": {"field": "cat", "type": "nominal", "scale": {"type": "band", "domain": ["Monocultures|Live", "Monocultures|Sterile"], "paddingInner": 0, "paddingOuter": 0}},
            "xOffset": {"field": "soil", "type": "nominal", "scale": {"type": "band", "domain": ["Own soil", "Foreign soil"], "paddingInner": 0, "paddingOuter": 0.67}},
            "y": {"field": "hi", "type": "quantitative", "axis": null},
            "text": {"field": "letter"}
          }
        },
        {
          "data": {"name": "plabels"}, "transform": [{"filter": "datum.panel === 'C'"}],
          "mark": {"type": "text", "fontSize": 28, "align": "left", "baseline": "alphabetic", "color": "#111"},
          "encoding": {
            "x": {"field": "cat", "type": "nominal", "bandPosition": 0.02, "scale": {"type": "band", "domain": ["Monocultures|Live", "Monocultures|Sterile"], "paddingInner": 0, "paddingOuter": 0}},
            "y": {"datum": 0.885, "axis": null},
            "text": {"field": "label"}
          }
        },
        {
          "data": {"name": "groups"}, "transform": [{"filter": "datum.panel === 'C'"}],
          "mark": {"type": "rule", "color": "#555", "strokeWidth": 1.3},
          "encoding": {
            "x": {"field": "cat", "type": "nominal", "bandPosition": 0.23, "scale": {"type": "band", "domain": ["Monocultures|Live", "Monocultures|Sterile"], "paddingInner": 0, "paddingOuter": 0}},
            "x2": {"field": "end", "bandPosition": 0.8},
            "y": {"datum": -0.161, "axis": null}
          }
        },
        {
          "data": {"name": "groups"}, "transform": [{"filter": "datum.panel === 'C'"}],
          "mark": {"type": "text", "fontSize": 28, "align": "center", "baseline": "alphabetic", "color": "#111"},
          "encoding": {
            "x": {"field": "end", "type": "nominal", "bandPosition": 0, "scale": {"type": "band", "domain": ["Monocultures|Live", "Monocultures|Sterile"], "paddingInner": 0, "paddingOuter": 0}},
            "y": {"datum": -0.286, "axis": null},
            "text": {"field": "label"}
          }
        }
      ]
    },
    {
      "width": 419, "height": 303,
      "view": {"stroke": null},
      "layer": [
        {
          "data": {"name": "bars"}, "transform": [{"filter": "datum.panel === 'D'"}],
          "mark": {"type": "bar", "stroke": "black", "strokeWidth": 1.5},
          "encoding": {
            "x": {"field": "cat", "type": "nominal", "scale": {"type": "band", "domain": ["Monocultures|Live", "Monocultures|Sterile"], "paddingInner": 0, "paddingOuter": 0},
                  "axis": {"title": null, "ticks": false, "labelAngle": 0, "labelFontSize": 26, "labelPadding": 15, "labelExpr": "split(datum.label, '|')[1]", "domainColor": "black", "labelColor": "#111"}},
            "xOffset": {"field": "soil", "type": "nominal", "scale": {"type": "band", "domain": ["Own soil", "Foreign soil"], "paddingInner": 0, "paddingOuter": 0.67}},
            "y": {"field": "mean", "type": "quantitative", "scale": {"domain": [0, 1], "nice": false},
                  "axis": {"title": null, "values": [0, 0.2, 0.4, 0.6, 0.8, 1], "format": ".1f", "grid": false, "tickSize": 4, "labelPadding": 15, "labelFontSize": 26, "domainColor": "black", "tickColor": "black", "labelColor": "#111"}},
            "fill": {
              "condition": [
                {"test": "datum.soil === 'Foreign soil' && datum.mean > 0.5", "value": {"gradient": "linear", "x1": 0, "y1": 0, "x2": 0.3323, "y2": 1.1869, "stops": [
                  {"offset": 0, "color": "#fff"},
                  {"offset": 0.0297, "color": "#fff"}, {"offset": 0.0337, "color": "#000"}, {"offset": 0.0377, "color": "#000"}, {"offset": 0.0417, "color": "#fff"},
                  {"offset": 0.1011, "color": "#fff"}, {"offset": 0.1051, "color": "#000"}, {"offset": 0.1091, "color": "#000"}, {"offset": 0.1131, "color": "#fff"},
                  {"offset": 0.1726, "color": "#fff"}, {"offset": 0.1766, "color": "#000"}, {"offset": 0.1806, "color": "#000"}, {"offset": 0.1846, "color": "#fff"},
                  {"offset": 0.244, "color": "#fff"}, {"offset": 0.248, "color": "#000"}, {"offset": 0.252, "color": "#000"}, {"offset": 0.256, "color": "#fff"},
                  {"offset": 0.3154, "color": "#fff"}, {"offset": 0.3194, "color": "#000"}, {"offset": 0.3234, "color": "#000"}, {"offset": 0.3274, "color": "#fff"},
                  {"offset": 0.3869, "color": "#fff"}, {"offset": 0.3909, "color": "#000"}, {"offset": 0.3949, "color": "#000"}, {"offset": 0.3989, "color": "#fff"},
                  {"offset": 0.4583, "color": "#fff"}, {"offset": 0.4623, "color": "#000"}, {"offset": 0.4663, "color": "#000"}, {"offset": 0.4703, "color": "#fff"},
                  {"offset": 0.5297, "color": "#fff"}, {"offset": 0.5337, "color": "#000"}, {"offset": 0.5377, "color": "#000"}, {"offset": 0.5417, "color": "#fff"},
                  {"offset": 0.6011, "color": "#fff"}, {"offset": 0.6051, "color": "#000"}, {"offset": 0.6091, "color": "#000"}, {"offset": 0.6131, "color": "#fff"},
                  {"offset": 0.6726, "color": "#fff"}, {"offset": 0.6766, "color": "#000"}, {"offset": 0.6806, "color": "#000"}, {"offset": 0.6846, "color": "#fff"},
                  {"offset": 0.744, "color": "#fff"}, {"offset": 0.748, "color": "#000"}, {"offset": 0.752, "color": "#000"}, {"offset": 0.756, "color": "#fff"},
                  {"offset": 0.8154, "color": "#fff"}, {"offset": 0.8194, "color": "#000"}, {"offset": 0.8234, "color": "#000"}, {"offset": 0.8274, "color": "#fff"},
                  {"offset": 0.8869, "color": "#fff"}, {"offset": 0.8909, "color": "#000"}, {"offset": 0.8949, "color": "#000"}, {"offset": 0.8989, "color": "#fff"},
                  {"offset": 0.9583, "color": "#fff"}, {"offset": 0.9623, "color": "#000"}, {"offset": 0.9663, "color": "#000"}, {"offset": 0.9703, "color": "#fff"},
                  {"offset": 1, "color": "#fff"}]}},
                {"test": "datum.soil === 'Foreign soil'", "value": {"gradient": "linear", "x1": 0, "y1": 0, "x2": 0.7767, "y2": 1.1507, "stops": [
                  {"offset": 0, "color": "#fff"},
                  {"offset": 0.0525, "color": "#fff"}, {"offset": 0.0592, "color": "#000"}, {"offset": 0.0658, "color": "#000"}, {"offset": 0.0725, "color": "#fff"},
                  {"offset": 0.1775, "color": "#fff"}, {"offset": 0.1842, "color": "#000"}, {"offset": 0.1908, "color": "#000"}, {"offset": 0.1975, "color": "#fff"},
                  {"offset": 0.3025, "color": "#fff"}, {"offset": 0.3092, "color": "#000"}, {"offset": 0.3158, "color": "#000"}, {"offset": 0.3225, "color": "#fff"},
                  {"offset": 0.4275, "color": "#fff"}, {"offset": 0.4342, "color": "#000"}, {"offset": 0.4408, "color": "#000"}, {"offset": 0.4475, "color": "#fff"},
                  {"offset": 0.5525, "color": "#fff"}, {"offset": 0.5592, "color": "#000"}, {"offset": 0.5658, "color": "#000"}, {"offset": 0.5725, "color": "#fff"},
                  {"offset": 0.6775, "color": "#fff"}, {"offset": 0.6842, "color": "#000"}, {"offset": 0.6908, "color": "#000"}, {"offset": 0.6975, "color": "#fff"},
                  {"offset": 0.8025, "color": "#fff"}, {"offset": 0.8092, "color": "#000"}, {"offset": 0.8158, "color": "#000"}, {"offset": 0.8225, "color": "#fff"},
                  {"offset": 0.9275, "color": "#fff"}, {"offset": 0.9342, "color": "#000"}, {"offset": 0.9408, "color": "#000"}, {"offset": 0.9475, "color": "#fff"},
                  {"offset": 1, "color": "#fff"}]}}
              ],
              "value": "white"
            }
          }
        },
        {
          "data": {"name": "bars"}, "transform": [{"filter": "datum.panel === 'D'"}],
          "mark": {"type": "rule", "color": "#333", "strokeWidth": 1},
          "encoding": {
            "x": {"field": "cat", "type": "nominal", "scale": {"type": "band", "domain": ["Monocultures|Live", "Monocultures|Sterile"], "paddingInner": 0, "paddingOuter": 0}},
            "xOffset": {"field": "soil", "type": "nominal", "scale": {"type": "band", "domain": ["Own soil", "Foreign soil"], "paddingInner": 0, "paddingOuter": 0.67}},
            "y": {"field": "lo", "type": "quantitative"},
            "y2": {"field": "hi"}
          }
        },
        {
          "data": {"name": "bars"}, "transform": [{"filter": "datum.panel === 'D'"}],
          "mark": {"type": "tick", "color": "#333", "thickness": 1, "size": 21},
          "encoding": {
            "x": {"field": "cat", "type": "nominal", "scale": {"type": "band", "domain": ["Monocultures|Live", "Monocultures|Sterile"], "paddingInner": 0, "paddingOuter": 0}},
            "xOffset": {"field": "soil", "type": "nominal", "scale": {"type": "band", "domain": ["Own soil", "Foreign soil"], "paddingInner": 0, "paddingOuter": 0.67}},
            "y": {"field": "hi", "type": "quantitative"}
          }
        },
        {
          "data": {"name": "bars"}, "transform": [{"filter": "datum.panel === 'D'"}],
          "mark": {"type": "tick", "color": "#333", "thickness": 1, "size": 21},
          "encoding": {
            "x": {"field": "cat", "type": "nominal", "scale": {"type": "band", "domain": ["Monocultures|Live", "Monocultures|Sterile"], "paddingInner": 0, "paddingOuter": 0}},
            "xOffset": {"field": "soil", "type": "nominal", "scale": {"type": "band", "domain": ["Own soil", "Foreign soil"], "paddingInner": 0, "paddingOuter": 0.67}},
            "y": {"field": "lo", "type": "quantitative"}
          }
        },
        {
          "data": {"name": "bars"}, "transform": [{"filter": "datum.panel === 'D'"}],
          "mark": {"type": "text", "fontSize": 25, "dy": -10, "baseline": "alphabetic", "color": "#111"},
          "encoding": {
            "x": {"field": "cat", "type": "nominal", "scale": {"type": "band", "domain": ["Monocultures|Live", "Monocultures|Sterile"], "paddingInner": 0, "paddingOuter": 0}},
            "xOffset": {"field": "soil", "type": "nominal", "scale": {"type": "band", "domain": ["Own soil", "Foreign soil"], "paddingInner": 0, "paddingOuter": 0.67}},
            "y": {"field": "hi", "type": "quantitative"},
            "text": {"field": "letter"}
          }
        },
        {
          "data": {"name": "plabels"}, "transform": [{"filter": "datum.panel === 'D'"}],
          "mark": {"type": "text", "fontSize": 28, "align": "left", "baseline": "alphabetic", "color": "#111"},
          "encoding": {
            "x": {"field": "cat", "type": "nominal", "bandPosition": 0.02, "scale": {"type": "band", "domain": ["Monocultures|Live", "Monocultures|Sterile"], "paddingInner": 0, "paddingOuter": 0}},
            "y": {"datum": 0.885},
            "text": {"field": "label"}
          }
        },
        {
          "data": {"name": "plabels"}, "transform": [{"filter": "datum.panel === 'D'"}],
          "mark": {"type": "rule", "color": "#333", "strokeWidth": 1},
          "encoding": {"y": {"datum": 1}}
        },
        {
          "data": {"name": "groups"}, "transform": [{"filter": "datum.panel === 'D'"}],
          "mark": {"type": "rule", "color": "#555", "strokeWidth": 1.3},
          "encoding": {
            "x": {"field": "cat", "type": "nominal", "bandPosition": 0.23, "scale": {"type": "band", "domain": ["Monocultures|Live", "Monocultures|Sterile"], "paddingInner": 0, "paddingOuter": 0}},
            "x2": {"field": "end", "bandPosition": 0.8},
            "y": {"datum": -0.161}
          }
        },
        {
          "data": {"name": "groups"}, "transform": [{"filter": "datum.panel === 'D'"}],
          "mark": {"type": "text", "fontSize": 28, "align": "center", "baseline": "alphabetic", "color": "#111"},
          "encoding": {
            "x": {"field": "end", "type": "nominal", "bandPosition": 0, "scale": {"type": "band", "domain": ["Monocultures|Live", "Monocultures|Sterile"], "paddingInner": 0, "paddingOuter": 0}},
            "y": {"datum": -0.286},
            "text": {"field": "label"}
          }
        }
      ]
    }
  ],
  "config": {
    "font": "Liberation Sans",
    "view": {"stroke": "#333", "strokeWidth": 1},
    "axis": {"labelFont": "Liberation Sans", "titleFont": "Liberation Sans"},
    "text": {"font": "Liberation Sans"},
    "title": {"font": "Liberation Sans"},
    "legend": {"labelFont": "Liberation Sans"}
  }
}
